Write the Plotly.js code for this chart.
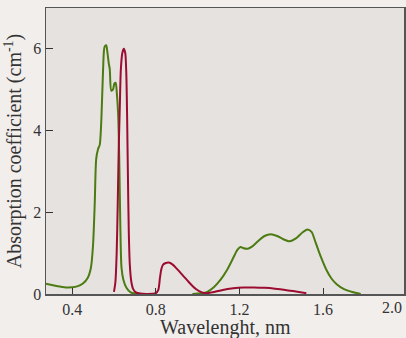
<!DOCTYPE html>
<html>
<head>
<meta charset="utf-8">
<script src="https://cdn.plot.ly/plotly-3.0.1.min.js"></script>
<style>
html,body{margin:0;padding:0;background:#f1eeec;}
#chart{width:406px;height:338px;}
</style>
</head>
<body>
<div id="chart"></div>
<script>
// Green series, visible band
var greenVisX = [0.275, 0.32, 0.37, 0.42, 0.45, 0.475, 0.49, 0.50, 0.508, 0.515, 0.524, 0.532, 0.540, 0.548, 0.555, 0.563, 0.569, 0.575, 0.580, 0.587, 0.595, 0.602, 0.608, 0.614, 0.620, 0.625, 0.630, 0.636, 0.645, 0.659, 0.680, 0.705, 0.730];
var greenVisY = [0.25, 0.20, 0.16, 0.18, 0.25, 0.40, 0.65, 1.2, 2.2, 3.3, 3.55, 3.65, 4.3, 5.5, 6.05, 6.09, 5.9, 5.65, 5.5, 4.98, 5.0, 5.15, 5.17, 4.9, 4.4, 3.4, 1.8, 0.65, 0.35, 0.16, 0.04, 0.01, 0.0];
// Green series, infrared band
var greenIrX = [0.975, 1.00, 1.04, 1.08, 1.11, 1.14, 1.17, 1.19, 1.205, 1.22, 1.24, 1.26, 1.29, 1.32, 1.35, 1.38, 1.41, 1.44, 1.47, 1.50, 1.525, 1.545, 1.565, 1.59, 1.615, 1.64, 1.665, 1.70, 1.74, 1.78];
var greenIrY = [0.0, 0.01, 0.04, 0.18, 0.35, 0.58, 0.88, 1.08, 1.15, 1.12, 1.11, 1.16, 1.30, 1.42, 1.46, 1.42, 1.34, 1.29, 1.36, 1.50, 1.58, 1.52, 1.25, 0.9, 0.6, 0.38, 0.24, 0.12, 0.05, 0.0];
// Red series
var redX = [0.600, 0.607, 0.613, 0.618, 0.623, 0.628, 0.633, 0.640, 0.647, 0.654, 0.659, 0.663, 0.667, 0.671, 0.676, 0.683, 0.692, 0.705, 0.725, 0.76, 0.80, 0.812, 0.820, 0.827, 0.835, 0.848, 0.862, 0.878, 0.90, 0.93, 0.96, 0.99, 1.02, 1.045, 1.08, 1.12, 1.17, 1.22, 1.27, 1.32, 1.37, 1.42, 1.47, 1.52];
var redY = [0.05, 0.3, 1.0, 2.2, 3.6, 4.6, 5.5, 5.9, 6.0, 5.9, 5.4, 4.3, 2.8, 1.5, 0.7, 0.3, 0.12, 0.04, 0.01, 0.0, 0.02, 0.1, 0.4, 0.62, 0.72, 0.76, 0.77, 0.73, 0.62, 0.45, 0.28, 0.13, 0.04, 0.02, 0.05, 0.1, 0.14, 0.16, 0.16, 0.15, 0.13, 0.1, 0.06, 0.02];
var xTicks = [0.4, 0.8, 1.2, 1.6];
var xTickText = ['0.4', '0.8', '1.2', '1.6'];
var yTicks = [0, 2, 4, 6];

var green = '#4b7b12';
var red = '#9c0c30';
var font = 'Liberation Serif, Times New Roman, serif';

var traces = [
  {x: greenVisX, y: greenVisY, mode: 'lines', line: {color: green, width: 2, shape: 'spline', smoothing: 0.7}, hoverinfo: 'skip'},
  {x: greenIrX, y: greenIrY, mode: 'lines', line: {color: green, width: 2, shape: 'spline', smoothing: 0.7}, hoverinfo: 'skip'},
  {x: redX, y: redY, mode: 'lines', line: {color: red, width: 2, shape: 'spline', smoothing: 0.7}, hoverinfo: 'skip'}
];

var layout = {
  width: 406, height: 338,
  margin: {l: 46, r: 2, t: 8, b: 44},
  paper_bgcolor: '#f1eeec',
  plot_bgcolor: '#e6e2df',
  showlegend: false,
  font: {family: font, color: '#333', size: 16},
  xaxis: {
    range: [0.275, 1.987], tickvals: xTicks, ticktext: xTickText,
    ticks: 'inside', ticklen: 6, tickcolor: '#333', tickwidth: 1,
    showgrid: false, zeroline: false, showline: true, mirror: true,
    linecolor: '#555', linewidth: 1.5,
    tickfont: {family: font, size: 16, color: '#333'}
  },
  yaxis: {
    range: [0, 7], tickvals: yTicks,
    ticks: 'inside', ticklen: 7, tickcolor: '#333', tickwidth: 1,
    showgrid: false, zeroline: false, showline: true, mirror: true,
    linecolor: '#555', linewidth: 1.5,
    tickfont: {family: font, size: 16, color: '#333'},
    title: {text: 'Absorption coefficient (cm<sup>-1</sup>)', font: {family: font, size: 20, color: '#333'}, standoff: 6}
  },
  annotations: [
    {text: '2.0', xref: 'paper', yref: 'paper', x: 1.0, y: 0, xanchor: 'right', yanchor: 'top', yshift: -3, showarrow: false,
     font: {family: font, size: 16, color: '#333'}},
    {text: 'Wavelenght, nm', xref: 'paper', yref: 'paper', x: 0.5, y: 0, xanchor: 'center', yanchor: 'middle', yshift: -33, showarrow: false,
     font: {family: font, size: 20, color: '#333'}}
  ]
};

Plotly.newPlot('chart', traces, layout, {staticPlot: true, displayModeBar: false});
</script>
</body>
</html>
